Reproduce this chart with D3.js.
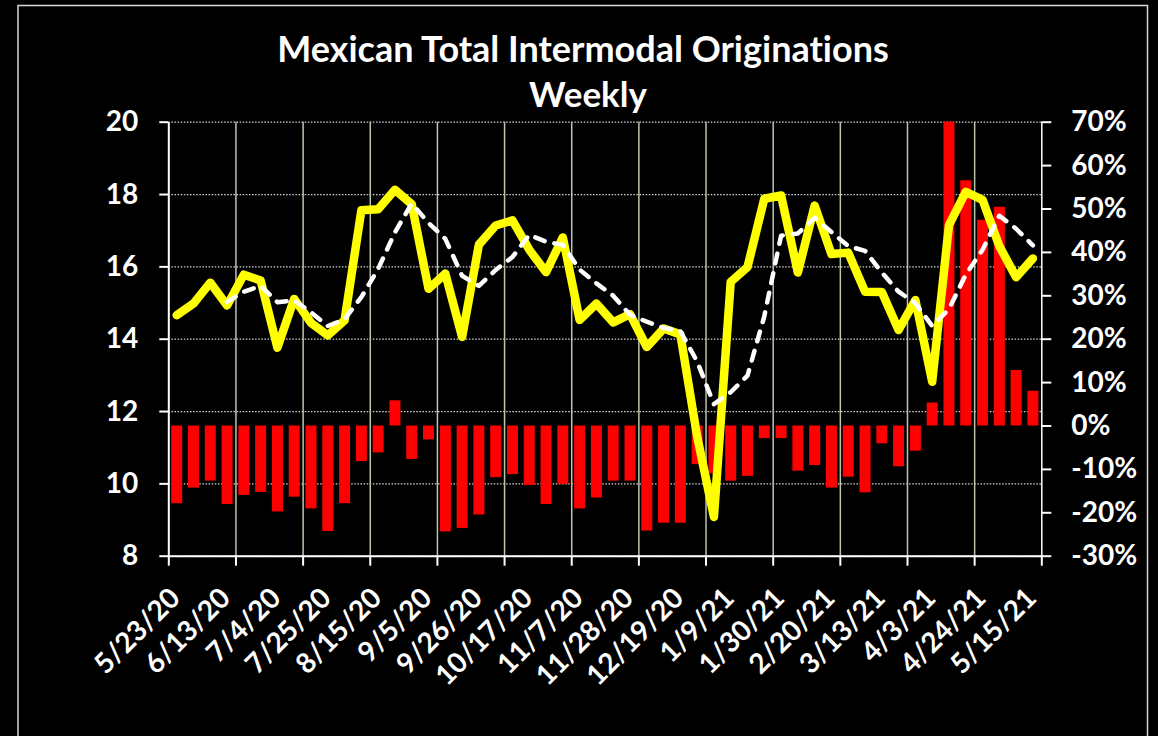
<!DOCTYPE html>
<html>
<head>
<meta charset="utf-8">
<script src="https://cdn.jsdelivr.net/npm/d3@7"></script>
<style>
  html, body { margin: 0; padding: 0; background: #000; }
  svg { display: block; font-family: Lato, "Open Sans", sans-serif; font-weight: 700; font-variant-ligatures: none; }
</style>
</head>
<body>
<div id="chart"></div>
<script>
// weekly categories (week ending)
const weeks = [
  "5/23/20", "5/30/20", "6/6/20", "6/13/20", "6/20/20", "6/27/20", "7/4/20", "7/11/20",
  "7/18/20", "7/25/20", "8/1/20", "8/8/20", "8/15/20", "8/22/20", "8/29/20", "9/5/20",
  "9/12/20", "9/19/20", "9/26/20", "10/3/20", "10/10/20", "10/17/20", "10/24/20", "10/31/20",
  "11/7/20", "11/14/20", "11/21/20", "11/28/20", "12/5/20", "12/12/20", "12/19/20", "12/26/20",
  "1/2/21", "1/9/21", "1/16/21", "1/23/21", "1/30/21", "2/6/21", "2/13/21", "2/20/21",
  "2/27/21", "3/6/21", "3/13/21", "3/20/21", "3/27/21", "4/3/21", "4/10/21", "4/17/21",
  "4/24/21", "5/1/21", "5/8/21", "5/15/21"
];

const weekLabels = [
  "5/23/20", "6/13/20", "7/4/20", "7/25/20", "8/15/20", "9/5/20", "9/26/20", "10/17/20",
  "11/7/20", "11/28/20", "12/19/20", "1/9/21", "1/30/21", "2/20/21", "3/13/21", "4/3/21",
  "4/24/21", "5/15/21"
];

// weekly originations (thousands), left axis
const originations = [
  14.65, 14.97, 15.55, 14.92, 15.77, 15.61, 13.75, 15.10, 14.44, 14.09,
  14.51, 17.55, 17.58, 18.12, 17.72, 15.38, 15.80, 14.05, 16.60, 17.13,
  17.27, 16.46, 15.84, 16.80, 14.52, 14.97, 14.45, 14.68, 13.77, 14.28,
  14.12, 11.30, 9.07, 15.57, 15.98, 17.87, 17.96, 15.83, 17.68, 16.34,
  16.38, 15.30, 15.29, 14.24, 15.07, 12.81, 17.14, 18.06, 17.84, 16.56,
  15.70, 16.22
];

// 4 week average (dashed), left axis
const avg4wk = [
  null, null, null, 15.02, 15.30, 15.46, 15.01, 15.06, 14.73, 14.35,
  14.54, 15.15, 15.93, 16.94, 17.74, 17.20, 16.76, 15.74, 15.46, 15.90,
  16.26, 16.87, 16.68, 16.59, 15.91, 15.53, 15.19, 14.66, 14.47, 14.30,
  14.21, 13.37, 12.19, 12.52, 12.98, 14.62, 16.85, 16.91, 17.34, 16.95,
  16.56, 16.43, 15.83, 15.30, 14.98, 14.35, 14.82, 15.77, 16.46, 17.40,
  17.04, 16.58
];

// year over year change (%), right axis
const yoyChange = [
  -17.9, -14.3, -12.7, -18.1, -16.0, -15.3, -19.8, -16.4, -19.1, -24.3,
  -17.9, -8.2, -6.2, 5.8, -7.7, -3.2, -24.4, -23.6, -20.5, -11.9,
  -11.2, -13.7, -18.1, -13.5, -19.1, -16.6, -12.7, -12.7, -24.2, -22.4,
  -22.4, -8.9, -11.0, -12.7, -11.6, -2.9, -2.9, -10.4, -9.1, -14.3,
  -11.8, -15.4, -4.1, -9.4, -5.8, 5.3, 70.0, 56.5, 47.4, 50.4,
  12.8, 8.0
];

const leftTicks = [8, 10, 12, 14, 16, 18, 20];
const rightTicks = [-30, -20, -10, 0, 10, 20, 30, 40, 50, 60, 70];

const width = 1158, height = 736;
const plot = {left: 168.3, right: 1041.3, top: 121.7, bottom: 555.7};

const svg = d3.select("#chart").append("svg")
  .attr("width", width)
  .attr("height", height);

svg.append("rect")
  .attr("width", width).attr("height", height)
  .attr("fill", "#000");

svg.append("rect")
  .attr("x", 18).attr("y", 5.5)
  .attr("width", 1129.5).attr("height", 800)
  .attr("fill", "none")
  .attr("stroke", "#d9d9d9")
  .attr("stroke-width", 1.5);

// title
svg.append("text")
  .attr("x", 583).attr("y", 62)
  .attr("text-anchor", "middle")
  .attr("fill", "#fff")
  .style("font-size", "36px")
  .text("Mexican Total Intermodal Originations");

svg.append("text")
  .attr("x", 588).attr("y", 107)
  .attr("text-anchor", "middle")
  .attr("fill", "#fff")
  .style("font-size", "35px")
  .text("Weekly");

// scales
const x = d3.scaleBand().domain(weeks).range([plot.left, plot.right]).padding(0);
const xEdge = d3.scaleLinear().domain([0, weeks.length]).range([plot.left, plot.right]);
const y = d3.scaleLinear().domain([8, 20]).range([plot.bottom, plot.top]);
const y2 = d3.scaleLinear().domain([-30, 70]).range([plot.bottom, plot.top]);
const bw = x.bandwidth();
const barW = bw * 0.655;
const cx = (i) => x(weeks[i]) + bw / 2;

// horizontal dotted grid
const gridY = svg.append("g")
  .attr("transform", "translate(" + plot.left + ",0)")
  .call(d3.axisLeft(y).tickValues(leftTicks).tickSize(-(plot.right - plot.left)).tickFormat(""));
gridY.select(".domain").remove();
gridY.selectAll(".tick line")
  .attr("stroke", "#d8d8d8")
  .attr("stroke-width", 1.3)
  .attr("stroke-dasharray", "1.5,1.6");

// vertical grid every 4 weeks
const gridX = svg.append("g")
  .attr("transform", "translate(0," + plot.bottom + ")")
  .call(d3.axisBottom(xEdge).tickValues(d3.range(4, weeks.length, 4)).tickSize(-(plot.bottom - plot.top)).tickFormat(""));
gridX.select(".domain").remove();
gridX.selectAll(".tick line")
  .attr("stroke", "#b9c6ad")
  .attr("stroke-width", 1.5);

// yoy bars
svg.append("g").selectAll("rect")
  .data(yoyChange)
  .enter()
  .append("rect")
  .attr("x", (d, i) => cx(i) - barW / 2)
  .attr("y", (d) => y2(Math.max(0, d)))
  .attr("width", barW)
  .attr("height", (d) => Math.abs(y2(d) - y2(0)))
  .attr("fill", "#ff0000");

// axes
function styleAxis(g) {
  g.selectAll(".domain").attr("stroke", "#fff").attr("stroke-width", 2);
  g.selectAll(".tick line").attr("stroke", "#fff").attr("stroke-width", 2);
  g.selectAll(".tick text").attr("fill", "#fff").style("font-size", "28px");
}

const leftAxis = svg.append("g")
  .attr("transform", "translate(" + plot.left + ",0)")
  .call(d3.axisLeft(y).tickValues(leftTicks).tickSize(9).tickSizeOuter(0).tickPadding(21));
styleAxis(leftAxis);

const rightAxis = svg.append("g")
  .attr("transform", "translate(" + plot.right + ",0)")
  .call(d3.axisRight(y2).tickValues(rightTicks).tickSize(10).tickSizeOuter(0).tickPadding(20)
    .tickFormat((d) => d + "%"));
styleAxis(rightAxis);
rightAxis.select(".domain").attr("stroke-width", 1.5);

const bottomTicks = svg.append("g")
  .attr("transform", "translate(0," + plot.bottom + ")")
  .call(d3.axisBottom(xEdge).tickValues(d3.range(0, weeks.length + 1, 4)).tickSize(10).tickSizeOuter(0).tickFormat(""));
styleAxis(bottomTicks);

const bottomLabels = svg.append("g")
  .attr("transform", "translate(0," + plot.bottom + ")")
  .call(d3.axisBottom(x).tickValues(weekLabels).tickSize(0));
bottomLabels.select(".domain").remove();
styleAxis(bottomLabels);
bottomLabels.selectAll(".tick text")
  .attr("x", 0).attr("y", 0).attr("dy", null)
  .attr("text-anchor", "end")
  .attr("transform", "translate(5,44) rotate(-45)");

svg.selectAll("g").attr("font-family", null);

// originations line
svg.append("path")
  .datum(originations)
  .attr("fill", "none")
  .attr("stroke", "#ffff00")
  .attr("stroke-width", 8.5)
  .attr("stroke-linejoin", "round")
  .attr("stroke-linecap", "round")
  .attr("d", d3.line().x((d, i) => cx(i)).y((d) => y(d)));

// 4 week average dashed
svg.append("path")
  .datum(avg4wk)
  .attr("fill", "none")
  .attr("stroke", "#fff")
  .attr("stroke-width", 4.5)
  .attr("stroke-dasharray", "10,10")
  .attr("stroke-linecap", "round")
  .attr("stroke-linejoin", "round")
  .attr("d", d3.line().defined((d) => d != null).x((d, i) => cx(i)).y((d) => y(d)));
</script>
</body>
</html>
